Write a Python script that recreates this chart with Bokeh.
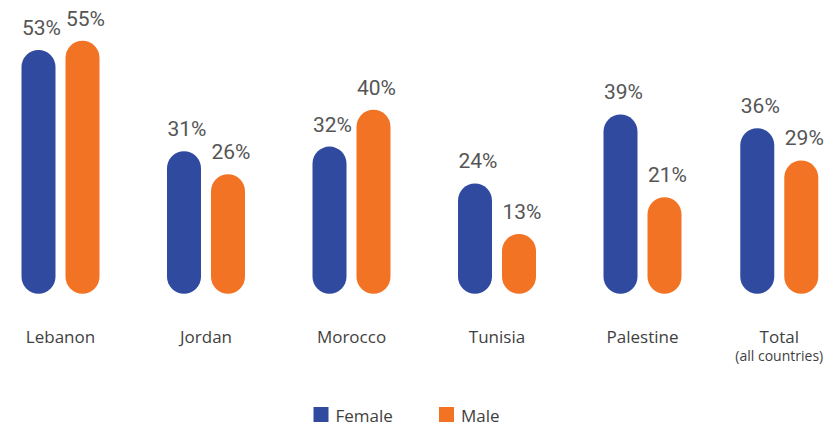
from bokeh.plotting import figure
from bokeh.models import Range1d, ColumnDataSource
from bokeh.core.properties import value
from bokeh.embed import file_html
from bokeh.resources import INLINE

# ---- data ----
countries = ["Lebanon", "Jordan", "Morocco", "Tunisia", "Palestine", "Total"]
female = [53, 31, 32, 24, 39, 36]
male = [55, 26, 40, 13, 21, 29]
sub_labels = ["", "", "", "", "", "(all countries)"]
series_names = ["Female", "Male"]

# ---- layout ----
W, H = 827, 427
group_pos = [0, 1, 2, 3, 4, 4.94]
PX_PER_UNIT = 145.5
X0_PX = 60.0          # px of group 0 centre
BASE_PX = 293.3       # px of baseline
PX_PER_PCT = 4.6

BLUE = "#2F4A9F"
ORANGE = "#F37324"
LABEL_COLOR = "#555555"
CAT_COLOR = "#3F3F3F"

x_lo = -X0_PX / PX_PER_UNIT
x_hi = (W - X0_PX) / PX_PER_UNIT
y_hi = BASE_PX / PX_PER_PCT
y_lo = (BASE_PX - H) / PX_PER_PCT

def ux(px):
    return (px - X0_PX) / PX_PER_UNIT

def uy(py):
    return (BASE_PX - py) / PX_PER_PCT

bar_w = 34 / PX_PER_UNIT
off = 22 / PX_PER_UNIT

p = figure(width=W, height=H, output_backend="svg", toolbar_location=None,
           x_range=Range1d(x_lo, x_hi), y_range=Range1d(y_lo, y_hi),
           min_border=0, outline_line_color=None)
p.axis.visible = False
p.grid.visible = False
p.background_fill_color = "white"
p.border_fill_color = "white"

fx = [g - off for g in group_pos]
mx = [g + off for g in group_pos]

src_f = ColumnDataSource(dict(x=fx, top=female, lab=[f"{v}%" for v in female]))
src_m = ColumnDataSource(dict(x=mx, top=male, lab=[f"{v}%" for v in male]))

p.vbar(x="x", top="top", bottom=0, width=bar_w, source=src_f,
       fill_color=BLUE, line_color=None, border_radius=17)
p.vbar(x="x", top="top", bottom=0, width=bar_w, source=src_m,
       fill_color=ORANGE, line_color=None, border_radius=17)

for src in (src_f, src_m):
    p.text(x="x", y="top", text="lab", source=src, text_align="center",
           text_baseline="bottom", y_offset=-10, x_offset=3,
           text_font=value("Roboto"), text_font_size="21px",
           text_color=LABEL_COLOR)

cat_src = ColumnDataSource(dict(x=group_pos, y=[0] * len(countries),
                                name=countries, sub=sub_labels))
p.text(x="x", y="y", text="name", source=cat_src, text_align="center",
       text_baseline="alphabetic", y_offset=43,
       text_font=value("Open Sans"), text_font_size="17px", text_color=CAT_COLOR)
p.text(x="x", y="y", text="sub", source=cat_src, text_align="center",
       text_baseline="alphabetic", y_offset=62,
       text_font=value("Open Sans"), text_font_size="14px", text_color=CAT_COLOR)

# ---- legend (manual) ----
leg_y = uy(414)
sq_x = [ux(320.5), ux(446)]
leg_src = ColumnDataSource(dict(x=sq_x, y=[leg_y, leg_y], c=[BLUE, ORANGE],
                                name=series_names))
p.scatter(x="x", y="y", marker="square", size=15, fill_color="c",
          line_color=None, source=leg_src)
p.text(x="x", y="y", text="name", source=leg_src, text_align="left",
       text_baseline="middle", x_offset=14.5, y_offset=1,
       text_font=value("Open Sans"), text_font_size="17px", text_color=CAT_COLOR)

open("out.html", "w").write(file_html(p, INLINE))
